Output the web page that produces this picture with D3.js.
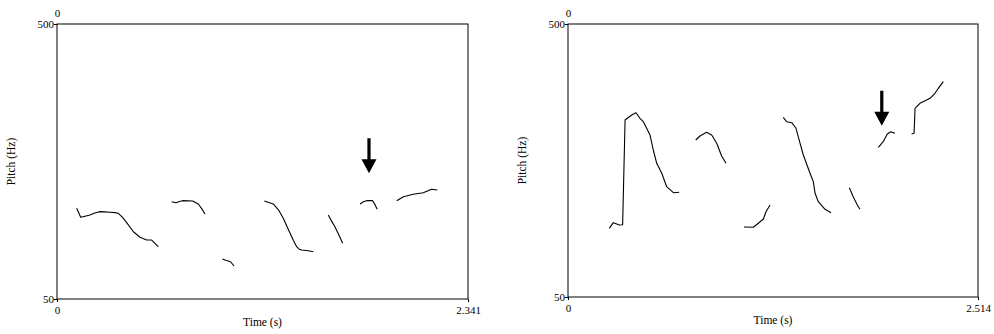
<!DOCTYPE html>
<html>
<head>
<meta charset="utf-8">
<script src="https://cdn.jsdelivr.net/npm/d3@7"></script>
<style>
  html, body { margin: 0; padding: 0; background: #fff; }
  svg { display: block; }
  text { font-family: "Liberation Serif", "Times New Roman", serif; fill: #000; }
</style>
</head>
<body>
<svg id="chart" width="994" height="334"></svg>
<script>
// Pitch range shared by both panels (Hz)
const pitchRange = [50, 500];
const pitchTicks = [50, 500];

// Left utterance: duration and voiced pitch stretches [time s, pitch Hz]
const leftDuration = 2.341;
const leftTimeLabels = ["0", "2.341"];
const leftContours = [
  [[0.112, 198.4], [0.135, 183.7], [0.160, 185.5], [0.188, 187.5], [0.215, 190.6], [0.241, 192.9],
   [0.270, 192.6], [0.302, 191.9], [0.330, 191.4], [0.349, 190.2], [0.372, 184.0], [0.397, 174.9],
   [0.435, 160.1], [0.473, 151.0], [0.511, 146.5], [0.539, 146.5], [0.577, 135.6]],
  [[0.653, 209.2], [0.678, 207.6], [0.697, 209.6], [0.716, 210.9], [0.773, 210.4], [0.805, 205.5],
   [0.825, 197.5], [0.843, 189.1]],
  [[0.942, 115.5], [0.965, 113.0], [0.989, 111.0], [1.008, 104.0]],
  [[1.181, 210.4], [1.232, 205.5], [1.262, 195.5], [1.289, 182.1], [1.308, 170.0], [1.327, 158.0],
   [1.346, 146.0], [1.365, 135.6], [1.380, 131.5], [1.394, 130.2], [1.431, 129.0], [1.460, 127.4]],
  [[1.545, 187.5], [1.565, 177.0], [1.583, 168.3], [1.605, 155.0], [1.627, 141.1]],
  [[1.726, 205.5], [1.745, 209.0], [1.764, 210.9], [1.798, 210.9], [1.812, 204.0], [1.824, 196.8]],
  [[1.935, 210.9], [1.973, 217.4], [2.029, 221.3], [2.086, 223.9], [2.134, 229.5], [2.166, 228.4]]
];
const leftArrow = [1.777, 255.7];

// Right utterance
const rightDuration = 2.514;
const rightTimeLabels = ["0", "2.514"];
const rightContours = [
  [[0.253, 163.2], [0.278, 172.5], [0.299, 170.3], [0.315, 168.7], [0.335, 169.2], [0.350, 341.8],
   [0.391, 350.0], [0.417, 353.8], [0.441, 344.6], [0.462, 338.9], [0.503, 317.0], [0.523, 292.3],
   [0.544, 270.4], [0.575, 253.9], [0.605, 231.8], [0.646, 221.9], [0.682, 222.6]],
  [[0.783, 308.8], [0.809, 315.4], [0.850, 321.5], [0.881, 317.0], [0.912, 303.4], [0.942, 282.4],
   [0.969, 270.4]],
  [[1.079, 165.4], [1.136, 164.9], [1.167, 171.5], [1.198, 178.6], [1.214, 190.6], [1.239, 201.6]],
  [[1.320, 346.2], [1.341, 338.9], [1.372, 337.3], [1.398, 328.1], [1.423, 303.4], [1.443, 284.1],
   [1.484, 253.9], [1.504, 240.1], [1.515, 220.9], [1.535, 207.1], [1.576, 194.6], [1.613, 189.0]],
  [[1.725, 230.2], [1.749, 215.3], [1.774, 201.6], [1.790, 194.6]],
  [[1.903, 296.8], [1.933, 306.0], [1.958, 318.7], [1.979, 322.5], [2.005, 319.8]],
  [[2.107, 318.7], [2.122, 319.8], [2.128, 361.0], [2.158, 369.3], [2.220, 377.5], [2.250, 385.8],
   [2.271, 394.0], [2.301, 404.9]]
];
const rightArrow = [1.924, 332.4];

const panels = [
  { left: 57, right: 468, top: 24, bottom: 299, duration: leftDuration,
    timeLabels: leftTimeLabels, contours: leftContours, arrow: leftArrow },
  { left: 568, right: 978, top: 24, bottom: 297, duration: rightDuration,
    timeLabels: rightTimeLabels, contours: rightContours, arrow: rightArrow }
];

const svg = d3.select("#chart");

panels.forEach(p => {
  const x = d3.scaleLinear().domain([0, p.duration]).range([p.left, p.right]);
  const y = d3.scaleLinear().domain(pitchRange).range([p.bottom, p.top]);
  const g = svg.append("g");

  // Frame
  g.append("rect")
    .attr("x", p.left).attr("y", p.top)
    .attr("width", p.right - p.left).attr("height", p.bottom - p.top)
    .attr("fill", "none").attr("stroke", "#000").attr("stroke-width", 1);

  // Pitch axis
  const yAxis = g.append("g")
    .attr("transform", `translate(${p.left},0)`)
    .call(d3.axisLeft(y).tickValues(pitchTicks).tickFormat(d3.format("d"))
      .tickSizeInner(3).tickSizeOuter(0).tickPadding(0));
  yAxis.select(".domain").remove();
  yAxis.selectAll("text").style("font-size", "11px").style("font-family", null);

  // Time axis, bottom
  const xAxis = g.append("g")
    .attr("transform", `translate(0,${p.bottom})`)
    .call(d3.axisBottom(x).tickValues([0, p.duration])
      .tickFormat((d, i) => p.timeLabels[i])
      .tickSizeInner(3).tickSizeOuter(0).tickPadding(4));
  xAxis.select(".domain").remove();
  xAxis.selectAll("text").style("font-size", "11px").style("font-family", null);

  // Time origin marker along the top
  const topAxis = g.append("g")
    .attr("transform", `translate(0,${p.top})`)
    .call(d3.axisTop(x).tickValues([0]).tickFormat(() => p.timeLabels[0])
      .tickSize(0).tickPadding(7));
  topAxis.select(".domain").remove();
  topAxis.selectAll("text").style("font-size", "11px").style("font-family", null);

  // Axis titles
  g.append("text")
    .attr("x", (p.left + p.right) / 2).attr("y", p.bottom + 27)
    .attr("text-anchor", "middle").style("font-size", "11.5px")
    .text("Time (s)");
  g.append("text")
    .attr("transform", `translate(${p.left - 42},${(p.top + p.bottom) / 2}) rotate(-90)`)
    .attr("text-anchor", "middle").style("font-size", "11.5px")
    .text("Pitch (Hz)");

  // Pitch contours
  const line = d3.line().x(d => x(d[0])).y(d => y(d[1])).curve(d3.curveLinear);
  g.selectAll("path.contour").data(p.contours).join("path")
    .attr("class", "contour")
    .attr("d", line)
    .attr("fill", "none").attr("stroke", "#000").attr("stroke-width", 1.1)
    .attr("stroke-linejoin", "round");

  // Downward arrow marking the target syllable
  const ax = x(p.arrow[0]), ay = y(p.arrow[1]);
  const shaft = 1.6, head = 7.5, headH = 14, len = 35;
  g.append("path")
    .attr("d", `M${ax},${ay} L${ax - head},${ay - headH} L${ax - shaft},${ay - headH}
      L${ax - shaft},${ay - len} L${ax + shaft},${ay - len} L${ax + shaft},${ay - headH}
      L${ax + head},${ay - headH} Z`)
    .attr("fill", "#000");
});
</script>
</body>
</html>
